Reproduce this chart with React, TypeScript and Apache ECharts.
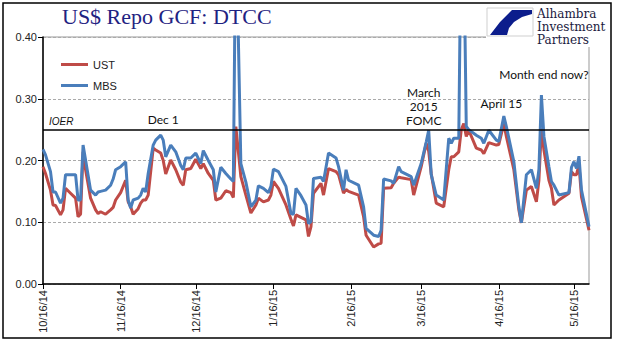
import React, { useEffect, useRef } from 'react';
import * as echarts from 'echarts';

const startDate = '10/16/14';
const endDate = '5/22/15';
const tickLabels = ['10/16/14', '11/16/14', '12/16/14', '1/16/15', '2/16/15', '3/16/15', '4/16/15', '5/16/15'];
const yTicks = [0, 0.1, 0.2, 0.3, 0.4];
const ioer = 0.25;

const obsDates = [
  '10/16/14', '10/17/14', '10/19/14', '10/20/14', '10/21/14', '10/23/14', '10/24/14', '10/25/14', '10/27/14', '10/29/14',
  '10/30/14', '10/31/14', '11/1/14', '11/2/14', '11/4/14', '11/6/14', '11/7/14', '11/8/14', '11/10/14', '11/12/14',
  '11/13/14', '11/14/14', '11/16/14', '11/18/14', '11/19/14', '11/20/14', '11/21/14', '11/23/14', '11/24/14', '11/25/14',
  '11/26/14', '11/27/14', '11/29/14', '11/30/14', '12/2/14', '12/3/14', '12/4/14', '12/6/14', '12/8/14', '12/10/14',
  '12/11/14', '12/12/14', '12/14/14', '12/16/14', '12/18/14', '12/19/14', '12/21/14', '12/23/14', '12/24/14', '12/26/14',
  '12/28/14', '12/30/14', '12/31/14', '1/1/15', '1/3/15', '1/5/15', '1/7/15', '1/9/15', '1/10/15', '1/12/15',
  '1/14/15', '1/15/15', '1/16/15', '1/18/15', '1/21/15', '1/23/15', '1/24/15', '1/25/15', '1/27/15', '1/29/15',
  '1/30/15', '1/31/15', '2/1/15', '2/4/15', '2/5/15', '2/7/15', '2/10/15', '2/11/15', '2/13/15', '2/14/15',
  '2/15/15', '2/19/15', '2/21/15', '2/22/15', '2/25/15', '2/27/15', '2/28/15', '3/1/15', '3/4/15', '3/5/15',
  '3/7/15', '3/8/15', '3/12/15', '3/13/15', '3/16/15', '3/18/15', '3/19/15', '3/20/15', '3/22/15', '3/25/15',
  '3/27/15', '3/28/15', '3/29/15', '3/31/15', '4/1/15', '4/2/15', '4/3/15', '4/4/15', '4/7/15', '4/9/15',
  '4/10/15', '4/12/15', '4/15/15', '4/16/15', '4/18/15', '4/19/15', '4/22/15', '4/24/15', '4/25/15', '4/27/15',
  '4/29/15', '5/1/15', '5/2/15', '5/3/15', '5/4/15', '5/6/15', '5/7/15', '5/8/15', '5/10/15', '5/14/15',
  '5/15/15', '5/16/15', '5/17/15', '5/18/15', '5/19/15', '5/22/15',
];

const ust = [
  0.190, 0.179, 0.152, 0.128, 0.127, 0.112, 0.120, 0.155, 0.147, 0.139,
  0.109, 0.113, 0.214, 0.185, 0.139, 0.120, 0.114, 0.117, 0.113, 0.120,
  0.124, 0.136, 0.148, 0.168, 0.133, 0.125, 0.113, 0.122, 0.131, 0.136,
  0.136, 0.144, 0.220, 0.217, 0.212, 0.200, 0.178, 0.201, 0.185, 0.165,
  0.160, 0.185, 0.187, 0.202, 0.187, 0.195, 0.179, 0.168, 0.136, 0.139,
  0.151, 0.148, 0.140, 0.255, 0.174, 0.144, 0.115, 0.128, 0.139, 0.133,
  0.136, 0.144, 0.166, 0.155, 0.128, 0.105, 0.094, 0.112, 0.108, 0.104,
  0.077, 0.093, 0.147, 0.163, 0.144, 0.187, 0.182, 0.177, 0.147, 0.153,
  0.150, 0.144, 0.109, 0.079, 0.060, 0.065, 0.066, 0.155, 0.156, 0.163,
  0.173, 0.172, 0.169, 0.144, 0.190, 0.228, 0.215, 0.179, 0.131, 0.125,
  0.185, 0.206, 0.206, 0.214, 0.250, 0.260, 0.239, 0.249, 0.220, 0.217,
  0.211, 0.229, 0.225, 0.226, 0.260, 0.239, 0.185, 0.120, 0.099, 0.152,
  0.158, 0.133, 0.168, 0.252, 0.217, 0.168, 0.155, 0.128, 0.136, 0.147,
  0.182, 0.177, 0.177, 0.193, 0.141, 0.087,
];

const mbs = [
  0.218, 0.209, 0.182, 0.149, 0.149, 0.131, 0.139, 0.177, 0.177, 0.177,
  0.136, 0.136, 0.225, 0.201, 0.152, 0.144, 0.149, 0.150, 0.152, 0.160,
  0.170, 0.185, 0.190, 0.198, 0.136, 0.123, 0.136, 0.139, 0.144, 0.155,
  0.149, 0.179, 0.225, 0.233, 0.241, 0.233, 0.206, 0.225, 0.214, 0.192,
  0.185, 0.204, 0.204, 0.212, 0.195, 0.216, 0.200, 0.185, 0.149, 0.189,
  0.179, 0.170, 0.166, 0.600, 0.195, 0.165, 0.125, 0.136, 0.159, 0.155,
  0.148, 0.158, 0.186, 0.182, 0.158, 0.114, 0.113, 0.155, 0.143, 0.128,
  0.098, 0.101, 0.171, 0.173, 0.166, 0.212, 0.204, 0.190, 0.152, 0.185,
  0.168, 0.160, 0.125, 0.090, 0.079, 0.077, 0.087, 0.170, 0.167, 0.163,
  0.190, 0.182, 0.174, 0.160, 0.195, 0.230, 0.249, 0.177, 0.144, 0.136,
  0.236, 0.228, 0.236, 0.236, 0.600, 0.550, 0.255, 0.250, 0.241, 0.236,
  0.228, 0.249, 0.233, 0.231, 0.272, 0.255, 0.198, 0.125, 0.099, 0.177,
  0.185, 0.155, 0.185, 0.306, 0.239, 0.190, 0.166, 0.160, 0.144, 0.148,
  0.189, 0.198, 0.187, 0.207, 0.152, 0.093,
];

const annotationTexts = ['Dec 1', 'March\n2015\nFOMC', 'April 15', 'Month end now?'];
const annotationDates = ['12/3/14', '3/17/15', '4/17/15', '5/4/15'];
const annotationValues = [0.267, 0.287, 0.293, 0.340];

const DAY = 86400000;
function parseDate(s: string) {
  const [m, d, y] = s.split('/').map(Number);
  return Date.UTC(2000 + y, m - 1, d);
}
function fmtDate(t: number) {
  const dt = new Date(t);
  return `${dt.getUTCMonth() + 1}/${dt.getUTCDate()}/${String(dt.getUTCFullYear()).slice(2)}`;
}
const dayAxis: string[] = [];
for (let t = parseDate(startDate); t <= parseDate(endDate); t += DAY) dayAxis.push(fmtDate(t));

function align(vals: number[]) {
  const m = new Map(obsDates.map((d, i) => [d, vals[i]]));
  return dayAxis.map((d) => (m.has(d) ? m.get(d) : null));
}

const isTick = (_i: number, v: string) => tickLabels.includes(v);

export default function App() {
  const ref = useRef<HTMLDivElement>(null);
  useEffect(() => {
    if (!ref.current) return;
    const chart = echarts.init(ref.current, undefined, { renderer: 'svg' });
    const sans = 'Liberation Sans';
    chart.setOption({
      animation: false,
      backgroundColor: '#fff',
      title: {
        text: 'US$ Repo GCF: DTCC',
        left: 62,
        top: 5,
        padding: 0,
        textStyle: { fontFamily: 'Liberation Serif', fontSize: 22, fontWeight: 'normal', color: '#1f2382' },
      },
      legend: {
        orient: 'vertical',
        left: 56,
        top: 54,
        itemGap: 10,
        itemWidth: 27,
        itemHeight: 3,
        icon: 'rect',
        textStyle: { fontFamily: sans, fontSize: 11, color: '#222' },
        data: ['UST', 'MBS'],
      },
      grid: {
        left: 43,
        right: 29,
        top: 37,
        bottom: 57,
        show: true,
        borderColor: '#999',
        borderWidth: 1,
      },
      xAxis: {
        type: 'category',
        data: dayAxis,
        boundaryGap: false,
        axisLine: { lineStyle: { color: '#000', width: 1.5 } },
        axisTick: { interval: isTick, length: 5, lineStyle: { color: '#000' } },
        axisLabel: {
          interval: isTick,
          rotate: 90,
          fontFamily: sans,
          fontSize: 11,
          color: '#222',
          margin: 6,
        },
        splitLine: { show: false },
      },
      yAxis: {
        type: 'value',
        min: yTicks[0],
        max: yTicks[yTicks.length - 1],
        interval: 0.1,
        axisLine: { show: true, lineStyle: { color: '#000', width: 1.5 } },
        axisTick: { show: true, length: 5, lineStyle: { color: '#000' } },
        axisLabel: { formatter: (v: number) => v.toFixed(2), fontFamily: sans, fontSize: 11, color: '#222', margin: 6 },
        splitLine: { show: true, lineStyle: { color: '#aaa', type: [3, 2], width: 1 } },
      },
      series: [
        {
          name: 'UST',
          type: 'line',
          data: align(ust),
          connectNulls: true,
          showSymbol: false,
          clip: true,
          lineStyle: { color: '#bf4b47', width: 3 },
          itemStyle: { color: '#bf4b47' },
          markLine: {
            silent: true,
            symbol: 'none',
            label: {
              show: true,
              position: 'insideStartTop',
              formatter: 'IOER',
              fontFamily: sans,
              fontStyle: 'italic',
              fontSize: 10,
              color: '#111',
              distance: [6, 3],
            },
            lineStyle: { color: '#000', width: 1.5, type: 'solid' },
            data: [{ yAxis: ioer }],
          },
        },
        {
          name: 'MBS',
          type: 'line',
          data: align(mbs),
          connectNulls: true,
          showSymbol: false,
          clip: true,
          lineStyle: { color: '#4a7ebb', width: 3 },
          itemStyle: { color: '#4a7ebb' },
          markPoint: {
            silent: true,
            symbol: 'circle',
            symbolSize: 1,
            itemStyle: { color: 'rgba(0,0,0,0)' },
            label: {
              show: true,
              position: 'inside',
              fontFamily: 'Lato',
              fontSize: 12,
              lineHeight: 14,
              color: '#111',
              align: 'center',
            },
            data: annotationTexts.map((t, i) => ({
              coord: [dayAxis.indexOf(annotationDates[i]), annotationValues[i]],
              label: { formatter: t },
            })),
          },
        },
      ],
      graphic: [
        {
          type: 'rect',
          z: 90,
          shape: { x: 486, y: 4, width: 124, height: 43 },
          style: { fill: '#fff' },
        },
        {
          type: 'rect',
          z: 95,
          shape: { x: 487, y: 8, width: 46, height: 28 },
          style: { fill: '#fff', stroke: '#cfcfcf', lineWidth: 1 },
        },
        {
          type: 'polygon',
          z: 96,
          shape: {
            points: [
              [512, 10], [532, 10], [532, 14], [522, 17], [514, 22], [509, 28], [507, 35], [490, 35], [500, 22],
            ],
          },
          style: { fill: '#0c1d8c' },
        },
        {
          type: 'text',
          z: 96,
          x: 537,
          y: 7,
          style: {
            text: 'Alhambra\nInvestment\nPartners',
            font: '12px "DejaVu Serif"',
            lineHeight: 13,
            fill: '#1a1a40',
          },
        },
        {
          type: 'rect',
          z: 200,
          shape: { x: 3, y: 3, width: 608, height: 335 },
          style: { fill: 'none', stroke: '#000', lineWidth: 1.5 },
        },
      ],
    });
    return () => chart.dispose();
  }, []);
  return <div ref={ref} style={{ position: 'absolute', left: 0, top: 0, width: 618, height: 341 }} />;
}
